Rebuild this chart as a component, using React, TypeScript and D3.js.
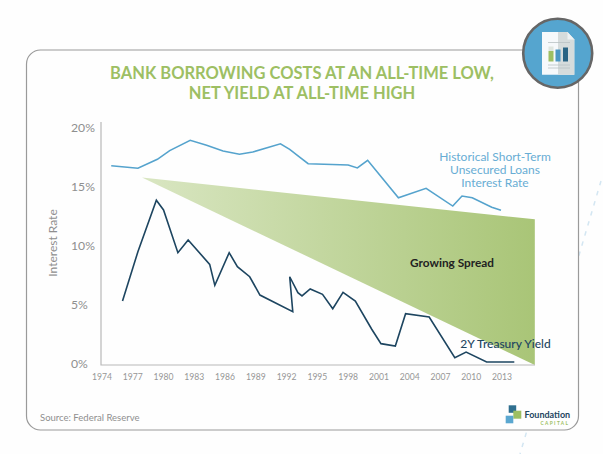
import * as d3 from 'd3';

const xTicks = [1974, 1977, 1980, 1983, 1986, 1989, 1992, 1995, 1998, 2001, 2004, 2007, 2010, 2013];
const yTicks = [0, 5, 10, 15, 20];

// [year, rate]
const loanRates: [number, number][] = [
  [1974.9, 16.72], [1977.5, 16.5], [1979.4, 17.26], [1980.6, 18.0], [1982.6, 18.87], [1984.2, 18.45],
  [1985.8, 17.97], [1987.4, 17.69], [1988.7, 17.88], [1991.4, 18.58], [1992.3, 18.11], [1993.3, 17.43],
  [1994.1, 16.89], [1998, 16.78], [1998.9, 16.53], [1999.9, 17.18], [2002.9, 14.0], [2005.6, 14.8],
  [2008.2, 13.3], [2009.1, 14.15], [2010.1, 14.0], [2012, 13.2], [2012.9, 12.94],
];

const treasuryYield: [number, number][] = [
  [1976, 5.25], [1977.5, 9.43], [1979.3, 13.79], [1980, 12.97], [1981.4, 9.35], [1982.4, 10.42],
  [1984.5, 8.36], [1985, 6.58], [1986.4, 9.35], [1987.2, 8.16], [1988.4, 7.31], [1989.4, 5.76],
  [1992.6, 4.35], [1992.3, 7.31], [1993.1, 5.96], [1993.5, 5.68], [1994.3, 6.27], [1995.5, 5.82],
  [1996.5, 4.6], [1997.5, 5.99], [1998.7, 5.25], [2000.3, 2.86], [2001.2, 1.64], [2002.6, 1.44],
  [2003.6, 4.18], [2005.9, 3.9], [2008.4, 0.45], [2009.5, 0.93], [2011.5, 0.08], [2014.2, 0.08],
];

const spreadWedge: [number, number][] = [[1977.9, 15.72], [2016.2, 12.18], [2016.2, -0.17]];

const titleLines = ['BANK BORROWING COSTS AT AN ALL-TIME LOW,', 'NET YIELD AT ALL-TIME HIGH'];
const loanLabel = ['Historical Short-Term', 'Unsecured Loans', 'Interest Rate'];

const font = 'Lato, sans-serif';

export default function App() {
  const width = 603;
  const height = 454;

  const x = d3.scaleLinear().domain([1974, 2013]).range([102, 502]);
  const y = d3.scaleLinear().domain([0, 20]).range([363, 127]);

  const line = d3.line<[number, number]>().x((d) => x(d[0])).y((d) => y(d[1]));

  return (
    <svg
      width={width}
      height={height}
      viewBox={`0 0 ${width} ${height}`}
      style={{ position: 'absolute', left: 0, top: 0, display: 'block' }}
    >
      <defs>
        <linearGradient id="spread" gradientUnits="userSpaceOnUse" x1={142} x2={535} y1={0} y2={0}>
          <stop offset="0%" stopColor="#d9e6c2" />
          <stop offset="100%" stopColor="#a9c577" />
        </linearGradient>
      </defs>
      <rect width={width} height={height} fill="#fefefe" />

      {/* dashed background line, runs behind the card */}
      <line x1={601} y1={181} x2={520} y2={454} stroke="#d3e6f2" strokeWidth={1.5} strokeDasharray="4.5 6" />

      <rect x={26.5} y={50} width={552} height={380} rx={14} fill="#fefefe" stroke="#9a9a9a" strokeWidth={1.2} />

      {titleLines.map((t, i) => (
        <text
          key={t}
          x={302}
          y={79 + i * 20}
          textAnchor="middle"
          fontFamily={font}
          fontWeight={700}
          fontSize={16.5}
          fill="#9dbf63"
        >
          {t}
        </text>
      ))}

      <path d={`${line(spreadWedge)}Z`} fill="url(#spread)" />

      <path d="M101 122V365H535" fill="none" stroke="#b8b8b8" strokeWidth={1.2} />

      {yTicks.map((t) => (
        <text key={t} x={71} y={y(t) + 4.5} fontFamily={font} fontSize={12.2} fill="#8f8f8f">
          {t}%
        </text>
      ))}
      {xTicks.map((t) => (
        <text key={t} x={x(t)} y={380} textAnchor="middle" fontFamily={font} fontSize={8.6} fill="#969696">
          {t}
        </text>
      ))}

      <text
        transform="translate(57,243) rotate(-90)"
        textAnchor="middle"
        fontFamily={font}
        fontSize={12}
        fill="#8f8f8f"
      >
        Interest Rate
      </text>

      <path d={line(loanRates) ?? ''} fill="none" stroke="#55a3cd" strokeWidth={1.6} />
      <path d={line(treasuryYield) ?? ''} fill="none" stroke="#1d4560" strokeWidth={1.6} />

      {loanLabel.map((t, i) => (
        <text key={t} x={495} y={161 + i * 13} textAnchor="middle" fontFamily={font} fontSize={12} fill="#68add4">
          {t}
        </text>
      ))}
      <text x={452} y={266.5} textAnchor="middle" fontFamily={font} fontWeight={700} fontSize={11.8} fill="#222">
        Growing Spread
      </text>
      <text x={505.5} y={348} textAnchor="middle" fontFamily={font} fontWeight={500} fontSize={12} fill="#1d4560">
        2Y Treasury Yield
      </text>

      <text x={40} y={421} fontFamily={font} fontSize={9.5} fill="#8f8f8f">
        Source: Federal Reserve
      </text>

      {/* logo */}
      <rect x={508.7} y={405.3} width={7.5} height={7.5} fill="#2f6f8f" />
      <rect x={513.3} y={410.7} width={8} height={8} fill="#9dbf63" />
      <rect x={505.7} y={415.7} width={7.6} height={7.6} fill="#5aa7d0" />
      <text x={524.5} y={418} fontFamily={font} fontWeight={700} fontSize={9} fill="#1d4560">
        Foundation
      </text>
      <text x={569.5} y={425} textAnchor="end" fontFamily={font} fontWeight={700} fontSize={4.8} letterSpacing={1.4} fill="#9dbf63">
        CAPITAL
      </text>

      {/* report badge */}
      <circle cx={557.7} cy={53.3} r={34.5} fill="#55a5cf" stroke="#666" strokeWidth={2.6} />
      <path d="M542 32H567.5L574.3 39.5V74.7H542Z" fill="#f6f9fb" />
      <path d="M558 32H567.5L574.3 39.5V74.7H558Z" fill="#d6dcdc" />
      <path d="M567.5 32L574.3 39.5H567.5Z" fill="#eef2f4" />
      <path d="M548 42.5H570M548 65H570M548 68H570" stroke="#b9c2c4" strokeWidth={0.8} fill="none" />
      <rect x={548.5} y={51} width={5} height={10.5} fill="#9dbf63" />
      <rect x={548.5} y={46.5} width={5} height={4.5} fill="#dfe6e0" />
      <rect x={555.5} y={49.5} width={5} height={12} fill="#4b97c4" />
      <rect x={563} y={47.5} width={5} height={14} fill="#2a6484" />
    </svg>
  );
}
